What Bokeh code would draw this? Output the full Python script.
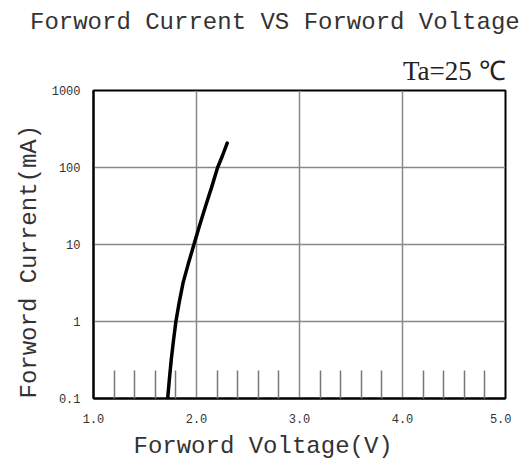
from bokeh.plotting import figure
from bokeh.layouts import column
from bokeh.models import Title, FixedTicker, CustomJSTickFormatter, Range1d, Div
from bokeh.embed import file_html
from bokeh.resources import INLINE

# data
voltage = [1.72, 1.737, 1.755, 1.776, 1.80, 1.833, 1.87, 1.92, 1.975, 2.032, 2.09, 2.148, 2.205, 2.25, 2.298]
current = [0.1, 0.18, 0.32, 0.56, 1.0, 1.8, 3.2, 5.6, 10.0, 18.0, 32.0, 56.0, 100.0, 140.0, 207.0]

x_major = [1.0, 2.0, 3.0, 4.0, 5.0]
x_minor = [1.2, 1.4, 1.6, 1.8, 2.2, 2.4, 2.6, 2.8, 3.2, 3.4, 3.6, 3.8, 4.2, 4.4, 4.6, 4.8]
y_major = [0.1, 1, 10, 100, 1000]

title_text = "Forword Current VS Forword Voltage"
xlabel_text = "Forword Voltage(V)"
ylabel_text = "Forword Current(mA)"
temp_text = "Ta=25 \u2103"

W = 511
TH = 40
H = 430

title_div = Div(text=title_text, width=W, height=TH,
                styles={"font-family": "'Liberation Mono', monospace", "font-size": "24px",
                        "color": "#333333", "line-height": "24px", "padding-top": "11px",
                        "padding-left": "30px", "white-space": "nowrap", "margin": "0"})

p = figure(width=W, height=H, output_backend="svg", toolbar_location=None,
           y_axis_type="log", x_range=Range1d(1.0, 5.0), y_range=Range1d(0.1, 1000),
           min_border_left=93, min_border_right=6, min_border_top=90 - TH, min_border_bottom=72)
p.background_fill_color = "white"
p.border_fill_color = "white"
p.outline_line_color = "black"
p.outline_line_width = 2

p.xaxis.ticker = FixedTicker(ticks=x_major, minor_ticks=x_minor)
p.yaxis.ticker = FixedTicker(ticks=y_major, minor_ticks=[])
p.yaxis.formatter = CustomJSTickFormatter(code="return tick < 1 ? tick.toFixed(1) : tick.toFixed(0);")
p.xaxis.formatter = CustomJSTickFormatter(code="return tick.toFixed(1);")
for ax in (p.xaxis, p.yaxis):
    ax.axis_line_color = "black"
    ax.axis_line_width = 2
    ax.major_tick_in = 0
    ax.major_tick_out = 0
    ax.major_label_text_font = "Liberation Mono"
    ax.major_label_text_font_size = "12px"
    ax.major_label_text_color = "#333333"
p.xaxis.minor_tick_in = 28
p.xaxis.minor_tick_out = 0
p.xaxis.minor_tick_line_color = "#777777"
p.xaxis.minor_tick_line_width = 1.5
p.xaxis.major_label_standoff = 15
p.yaxis.minor_tick_in = 0
p.yaxis.minor_tick_out = 0
p.yaxis.major_label_standoff = 13

p.xgrid.ticker = FixedTicker(ticks=x_major)
p.ygrid.ticker = FixedTicker(ticks=y_major)
for g in (p.xgrid, p.ygrid):
    g.grid_line_color = "#888888"
    g.grid_line_width = 1.5

p.line(voltage, current, line_color="black", line_width=3.5, line_join="round", line_cap="round")

p.title.text = temp_text
p.title.align = "right"
p.title.text_font = "Liberation Serif"
p.title.text_font_size = "27px"
p.title.text_font_style = "normal"
p.title.text_color = "#222222"

p.add_layout(Title(text=xlabel_text, align="left", offset=40, standoff=10,
                   text_font="Liberation Mono", text_font_size="24px",
                   text_font_style="normal", text_color="#333333"), "below")
p.add_layout(Title(text=ylabel_text, align="left", offset=0, standoff=12,
                   text_font="Liberation Mono", text_font_size="24px",
                   text_font_style="normal", text_color="#333333"), "left")

open("out.html", "w").write(file_html(column(title_div, p, spacing=0), INLINE))
